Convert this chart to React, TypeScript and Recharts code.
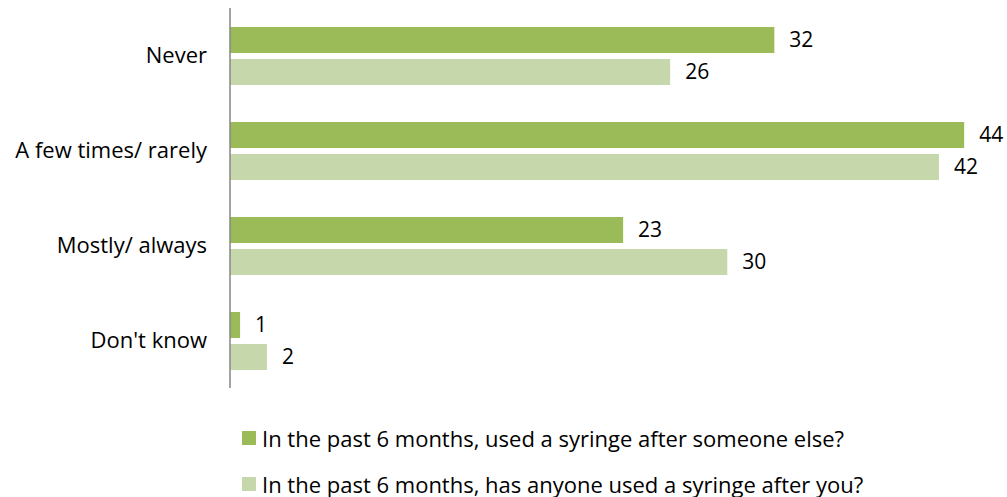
import React from 'react';
import { BarChart, Bar, XAxis, YAxis, LabelList } from 'recharts';

const categories = ['Never', 'A few times/ rarely', 'Mostly/ always', "Don't know"];
const usedAfterOthers = [32.4, 43.7, 23.4, 0.6];
const othersUsedAfter = [26.2, 42.2, 29.6, 2.2];
const seriesNames = [
  'In the past 6 months, used a syringe after someone else?',
  'In the past 6 months, has anyone used a syringe after you?',
];
const seriesColors = ['#9BBB59', '#C6D7AC'];

const data = categories.map((name, i) => ({
  name,
  used: usedAfterOthers[i],
  usedBy: othersUsedAfter[i],
}));

const font = "'Open Sans', sans-serif";
const fmt = (v: any) => Math.round(Number(v));

const App: React.FC = () => {
  return (
    <div style={{ position: 'absolute', left: 0, top: 0, width: 1007, height: 497, fontFamily: font }}>
      <BarChart
        width={1007}
        height={497}
        data={data}
        layout="vertical"
        margin={{ top: 8, right: 21, left: 0, bottom: 109 }}
        barSize={26}
        barGap={6}
      >
        <XAxis type="number" domain={[0, 45]} hide />
        <YAxis
          type="category"
          dataKey="name"
          width={230}
          tickLine={false}
          tickSize={0}
          tickMargin={23}
          axisLine={{ stroke: '#868686', strokeWidth: 1.5 }}
          tick={{ fill: '#000', fontSize: 22, fontFamily: font }}
        />
        <Bar dataKey="used" fill={seriesColors[0]} isAnimationActive={false}>
          <LabelList dataKey="used" position="right" offset={15} formatter={fmt} fill="#000" fontSize={21} fontFamily={font} />
        </Bar>
        <Bar dataKey="usedBy" fill={seriesColors[1]} isAnimationActive={false}>
          <LabelList dataKey="usedBy" position="right" offset={15} formatter={fmt} fill="#000" fontSize={21} fontFamily={font} />
        </Bar>
      </BarChart>
      {/* legend */}
      {seriesNames.map((s, i) => (
        <div
          key={s}
          style={{
            position: 'absolute',
            left: 242,
            top: 426 + i * 46,
            height: 24,
            display: 'flex',
            alignItems: 'center',
            fontSize: 22,
            color: '#000',
            whiteSpace: 'nowrap',
          }}
        >
          <span style={{ display: 'inline-block', width: 14, height: 14, background: seriesColors[i], marginRight: 6 }} />
          {s}
        </div>
      ))}
    </div>
  );
};

export default App;
